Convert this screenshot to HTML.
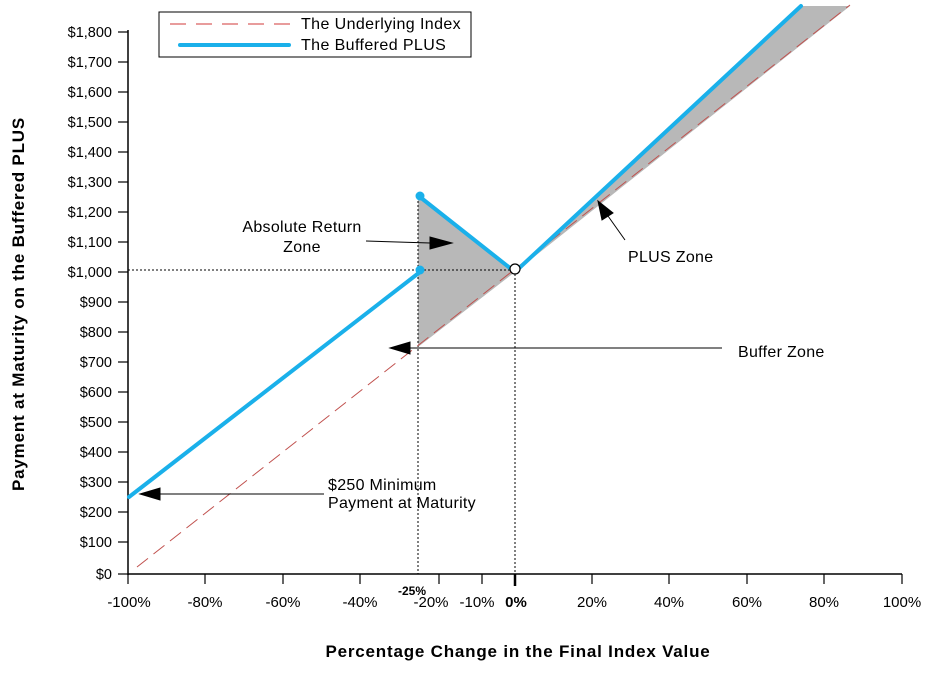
<!DOCTYPE html>
<html><head><style>
body{margin:0;background:#fff;}
svg text{font-family:"Liberation Sans",Arial,sans-serif;}
</style></head><body>
<svg width="937" height="673" viewBox="0 0 937 673" xmlns="http://www.w3.org/2000/svg">
<rect width="937" height="673" fill="#fff"/>
<polygon points="418,347 418,197 515,272" fill="#b8b8b8"/>
<polygon points="515,272 801,6 850,6" fill="#b8b8b8"/>
<line x1="128" y1="270" x2="515" y2="270" stroke="#000" stroke-width="1" stroke-dasharray="2,2"/>
<line x1="418" y1="197" x2="418" y2="574" stroke="#000" stroke-width="1" stroke-dasharray="2,2"/>
<line x1="515" y1="270" x2="515" y2="574" stroke="#000" stroke-width="1" stroke-dasharray="2,2"/>
<line x1="128" y1="30" x2="128" y2="575" stroke="#000" stroke-width="1.5"/>
<line x1="128" y1="574" x2="902" y2="574" stroke="#000" stroke-width="1.5"/>
<g stroke="#000" stroke-width="1.2">
<line x1="118" y1="32" x2="128" y2="32"/><line x1="118" y1="62" x2="128" y2="62"/><line x1="118" y1="92" x2="128" y2="92"/><line x1="118" y1="122" x2="128" y2="122"/><line x1="118" y1="152" x2="128" y2="152"/><line x1="118" y1="182" x2="128" y2="182"/><line x1="118" y1="212" x2="128" y2="212"/><line x1="118" y1="242" x2="128" y2="242"/><line x1="118" y1="272" x2="128" y2="272"/><line x1="118" y1="302" x2="128" y2="302"/><line x1="118" y1="332" x2="128" y2="332"/><line x1="118" y1="362" x2="128" y2="362"/><line x1="118" y1="392" x2="128" y2="392"/><line x1="118" y1="422" x2="128" y2="422"/><line x1="118" y1="452" x2="128" y2="452"/><line x1="118" y1="482" x2="128" y2="482"/><line x1="118" y1="512" x2="128" y2="512"/><line x1="118" y1="542" x2="128" y2="542"/><line x1="118" y1="574" x2="128" y2="574"/>
<line x1="128" y1="574" x2="128" y2="584"/><line x1="205" y1="574" x2="205" y2="584"/><line x1="283" y1="574" x2="283" y2="584"/><line x1="360" y1="574" x2="360" y2="584"/><line x1="439" y1="574" x2="439" y2="584"/><line x1="482" y1="574" x2="482" y2="584"/><line x1="592" y1="574" x2="592" y2="584"/><line x1="669" y1="574" x2="669" y2="584"/><line x1="747" y1="574" x2="747" y2="584"/><line x1="824" y1="574" x2="824" y2="584"/><line x1="902" y1="574" x2="902" y2="584"/>
</g>
<line x1="515" y1="574" x2="515" y2="586" stroke="#000" stroke-width="2.5"/>
<g font-size="14.5" text-anchor="end" fill="#000">
<text x="112" y="37">$1,800</text><text x="112" y="67">$1,700</text><text x="112" y="97">$1,600</text><text x="112" y="127">$1,500</text><text x="112" y="157">$1,400</text><text x="112" y="187">$1,300</text><text x="112" y="217">$1,200</text><text x="112" y="247">$1,100</text><text x="112" y="277">$1,000</text><text x="112" y="307">$900</text><text x="112" y="337">$800</text><text x="112" y="367">$700</text><text x="112" y="397">$600</text><text x="112" y="427">$500</text><text x="112" y="457">$400</text><text x="112" y="487">$300</text><text x="112" y="517">$200</text><text x="112" y="547">$100</text><text x="112" y="579">$0</text>
</g>
<g font-size="15" text-anchor="middle" fill="#000">
<text x="129" y="607">-100%</text><text x="205" y="607">-80%</text><text x="283" y="607">-60%</text><text x="360" y="607">-40%</text><text x="431" y="607">-20%</text><text x="477" y="607">-10%</text><text x="516" y="607" font-weight="bold">0%</text><text x="592" y="607">20%</text><text x="669" y="607">40%</text><text x="747" y="607">60%</text><text x="824" y="607">80%</text><text x="902" y="607">100%</text>
<text x="412" y="595" font-size="12" font-weight="bold">-25%</text>
</g>
<text x="518" y="657" font-size="17" font-weight="bold" letter-spacing="0.8" text-anchor="middle">Percentage Change in the Final Index Value</text>
<text transform="translate(24,304) rotate(-90)" font-size="17" font-weight="bold" letter-spacing="0.8" text-anchor="middle">Payment at Maturity on the Buffered PLUS</text>
<line x1="137" y1="567" x2="850" y2="5" stroke="#c0504d" stroke-width="1" stroke-dasharray="14,7"/>
<g stroke="#1ab0ea" stroke-width="4" stroke-linecap="round" fill="none">
<line x1="129" y1="497" x2="420" y2="272"/>
<polyline points="420,197 515,272 801,6"/>
</g>
<circle cx="420" cy="270" r="4.5" fill="#1ab0ea"/>
<circle cx="420" cy="196" r="4.5" fill="#1ab0ea"/>
<circle cx="515" cy="269" r="5" fill="#fff" stroke="#000" stroke-width="1.2"/>
<g font-size="16" fill="#000" letter-spacing="0.3">
<text x="302" y="232" text-anchor="middle">Absolute Return</text>
<text x="302" y="252" text-anchor="middle">Zone</text>
<text x="628" y="262">PLUS Zone</text>
<text x="738" y="357">Buffer Zone</text>
<text x="328" y="490">$250 Minimum</text>
<text x="328" y="508">Payment at Maturity</text>
</g>
<g stroke="#000" stroke-width="1" fill="#000">
<line x1="366" y1="241" x2="430" y2="243"/><polygon points="452,243 430,237 430,249"/>
<line x1="625" y1="240" x2="608" y2="216"/><polygon points="598,201 602,220 613,213"/>
<line x1="722" y1="348" x2="410" y2="348"/><polygon points="390,348 410,342 410,354"/>
<line x1="324" y1="494" x2="160" y2="494"/><polygon points="140,494 160,488 160,500"/>
</g>
<rect x="159" y="12" width="312" height="45" fill="#fff" stroke="#000" stroke-width="1"/>
<line x1="170" y1="24" x2="292" y2="24" stroke="#e07b7b" stroke-width="1.5" stroke-dasharray="16,10"/>
<line x1="180" y1="45" x2="289" y2="45" stroke="#1ab0ea" stroke-width="4" stroke-linecap="round"/>
<text x="301" y="29" font-size="16" letter-spacing="0.4">The Underlying Index</text>
<text x="301" y="50" font-size="16" letter-spacing="0.4">The Buffered PLUS</text>
</svg>
</body></html>
